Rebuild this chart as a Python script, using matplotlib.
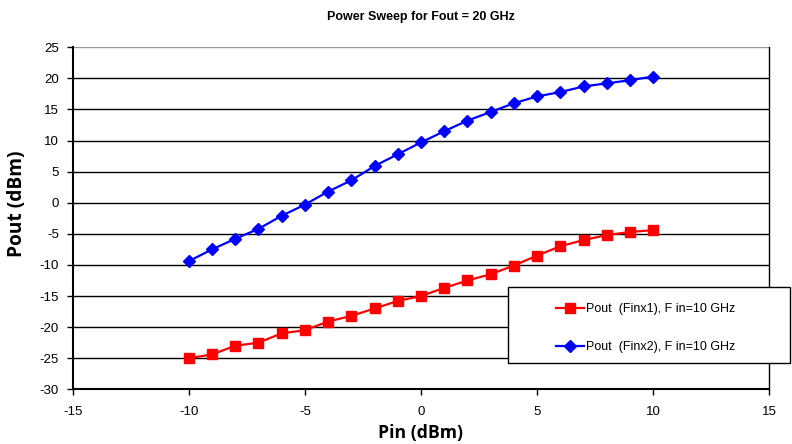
import matplotlib
matplotlib.use('Agg')
import matplotlib.pyplot as plt
from matplotlib.patches import Rectangle

# Pin sweep (dBm)
pin = [-10, -9, -8, -7, -6, -5, -4, -3, -2, -1, 0, 1, 2, 3, 4, 5, 6, 7, 8, 9, 10]

# Pout for Finx1, Fin = 10 GHz
pout_x1 = [-25.0, -24.4, -23.0, -22.5, -21.0, -20.5, -19.1, -18.2, -17.0, -15.8, -15.0,
           -13.7, -12.5, -11.5, -10.1, -8.5, -7.0, -6.0, -5.2, -4.7, -4.4]

# Pout for Finx2, Fin = 10 GHz
pout_x2 = [-9.4, -7.5, -5.8, -4.2, -2.1, -0.3, 1.8, 3.6, 5.9, 7.8, 9.7,
           11.5, 13.2, 14.6, 16.0, 17.1, 17.8, 18.7, 19.2, 19.7, 20.3]

x_ticks = [-15, -10, -5, 0, 5, 10, 15]
y_ticks = [-30, -25, -20, -15, -10, -5, 0, 5, 10, 15, 20, 25]

plt.rcParams['font.family'] = ['Liberation Sans', 'DejaVu Sans']
plt.rcParams['axes.unicode_minus'] = False

fig = plt.figure(figsize=(7.92, 4.44), dpi=100)
ax = fig.add_axes([0.0918, 0.1232, 0.8795, 0.7703])

# 가로 격자선
for yv in y_ticks[1:]:
    ax.axhline(yv, color='black' if yv < 25 else '#999999', lw=1.0, zorder=1)

ax.plot(pin, pout_x1, '-s', color='#ff0000', lw=1.6, ms=7,
        label='Pout  (Finx1), F in=10 GHz', zorder=3)
ax.plot(pin, pout_x2, '-D', color='#0000ff', lw=1.6, ms=6,
        label='Pout  (Finx2), F in=10 GHz', zorder=3)

ax.set_xlim(-15, 15)
ax.set_ylim(-30, 25)
ax.set_xticks(x_ticks)
ax.set_yticks(y_ticks)
ax.tick_params(direction='out', length=4, width=1, labelsize=9.5, colors='black')
ax.tick_params(axis='y', pad=6)
ax.tick_params(axis='x', pad=8)

ax.spines['top'].set_visible(False)
ax.spines['left'].set_linewidth(1.5)
ax.spines['bottom'].set_linewidth(1.5)
ax.spines['right'].set_linewidth(1.0)

ax.set_title('Power Sweep for Fout = 20 GHz', fontsize=9, fontweight='bold', pad=20)
ax.set_xlabel('Pin (dBm)', fontsize=12.7, fontweight='bold', labelpad=4,
              family=['Open Sans', 'DejaVu Sans'])
ax.set_ylabel('Pout (dBm)', fontsize=13.8, fontweight='bold',
              family=['Open Sans', 'DejaVu Sans'])
ax.yaxis.set_label_coords(-0.0655, 0.542)

# 범례 테두리는 따로 그림
box = Rectangle((508 / 792, 1 - 363 / 444), 282 / 792, 76 / 444,
                transform=fig.transFigure, facecolor='white', edgecolor='black',
                lw=1.0, clip_on=False, zorder=4)
ax.add_patch(box)

leg = ax.legend(loc='upper left', bbox_to_anchor=(556 / 792, 1 - 303 / 444),
                bbox_transform=fig.transFigure, fontsize=9, frameon=False,
                labelspacing=2.1, borderpad=0, handlelength=2.2,
                handletextpad=0.2, borderaxespad=0)
leg.set_zorder(5)

fig.savefig('out.png', dpi=100)
